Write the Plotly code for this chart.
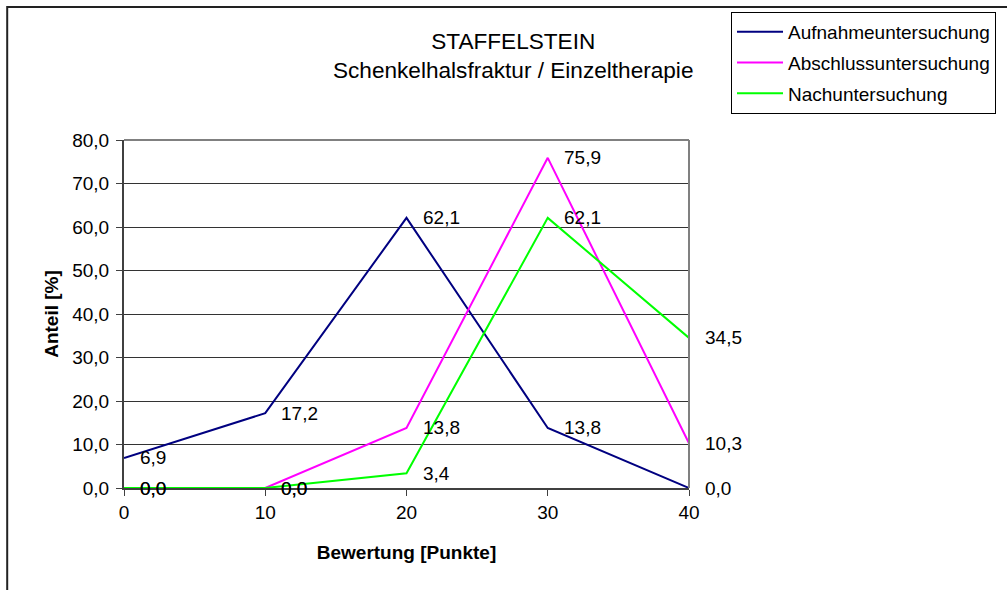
import plotly.graph_objects as go

# Bewertung in Punkten (x-Achse)
punkte = [0, 10, 20, 30, 40]

# Anteile in Prozent je Untersuchung
aufnahme = [6.9, 17.2, 62.1, 13.8, 0.0]
abschluss = [0.0, 0.0, 13.8, 75.9, 10.3]
nachunters = [0.0, 0.0, 3.4, 62.1, 34.5]

serien = [
    ("Aufnahmeuntersuchung", aufnahme, "#000080"),
    ("Abschlussuntersuchung", abschluss, "#FF00FF"),
    ("Nachuntersuchung", nachunters, "#00FF00"),
]

FONT = "Liberation Sans, Arial, sans-serif"
W, H = 1007, 590
L, R, T, B = 124, 317, 140, 102
plot_w = W - L - R
plot_h = H - T - B


def fmt(v):
    return f"{v:.1f}".replace(".", ",")


fig = go.Figure()
annotations = []
for i, (name, werte, farbe) in enumerate(serien):
    fig.add_trace(go.Scatter(
        x=punkte, y=werte, mode="lines", name=name,
        line=dict(color=farbe, width=2),
        legendgroup=f"g{i}",
        cliponaxis=False,
    ))
    for x, y in zip(punkte, werte):
        annotations.append(dict(
            x=x, y=y, xref="x", yref="y", text=fmt(y), showarrow=False,
            xanchor="left", yanchor="middle", xshift=14,
            font=dict(family=FONT, size=19, color="#000000"),
        ))

# Diagrammtitel
annotations.append(dict(
    x=(514 - L) / plot_w, y=(H - B - 56) / plot_h, xref="paper", yref="paper",
    text="STAFFELSTEIN<br>Schenkelhalsfraktur / Einzeltherapie",
    showarrow=False, xanchor="center", yanchor="middle", align="center",
    font=dict(family=FONT, size=22.6, color="#000000"),
))

shapes = [
    # äußerer Diagrammrahmen
    dict(type="rect", xref="paper", yref="paper",
         x0=(7 - L) / plot_w, x1=1.7, y0=-0.4, y1=(H - B - 7) / plot_h,
         line=dict(color="#222222", width=2), layer="below"),
    # Rahmen der Zeichenfläche oben und rechts
    dict(type="line", xref="paper", yref="paper", x0=0, x1=1, y0=1, y1=1,
         line=dict(color="#808080", width=2)),
    dict(type="line", xref="paper", yref="paper", x0=1, x1=1, y0=0, y1=1,
         line=dict(color="#808080", width=2)),
]

fig.update_layout(
    width=W, height=H,
    margin=dict(l=L, r=R, t=T, b=B),
    paper_bgcolor="white", plot_bgcolor="white",
    separators=",.",
    font=dict(family=FONT, size=19, color="#000000"),
    showlegend=True,
    legend=dict(
        x=(731 - L) / plot_w, y=(H - B - 12) / plot_h,
        xanchor="left", yanchor="top",
        bordercolor="#000000", borderwidth=1, bgcolor="white",
        font=dict(family=FONT, size=19),
        tracegroupgap=3, traceorder="grouped", itemwidth=46,
    ),
    xaxis=dict(
        range=[0, 40], tickvals=punkte, ticks="outside", ticklen=6,
        tickcolor="#404040", showline=True, linecolor="#404040", linewidth=2,
        showgrid=False, zeroline=False,
        tickfont=dict(family=FONT, size=19),
        title=dict(text="<b>Bewertung [Punkte]</b>", standoff=24,
                   font=dict(family=FONT, size=19)),
    ),
    yaxis=dict(
        range=[0, 80], dtick=10, tickformat=".1f", ticks="outside", ticklen=6,
        tickcolor="#404040", showline=True, linecolor="#404040", linewidth=2,
        showgrid=True, gridcolor="#333333", gridwidth=1, zeroline=False,
        tickfont=dict(family=FONT, size=19), ticklabelstandoff=3,
        title=dict(text="<b>Anteil [%]</b>", standoff=9,
                   font=dict(family=FONT, size=19)),
    ),
    annotations=annotations,
    shapes=shapes,
)

fig.write_html("out.html")
